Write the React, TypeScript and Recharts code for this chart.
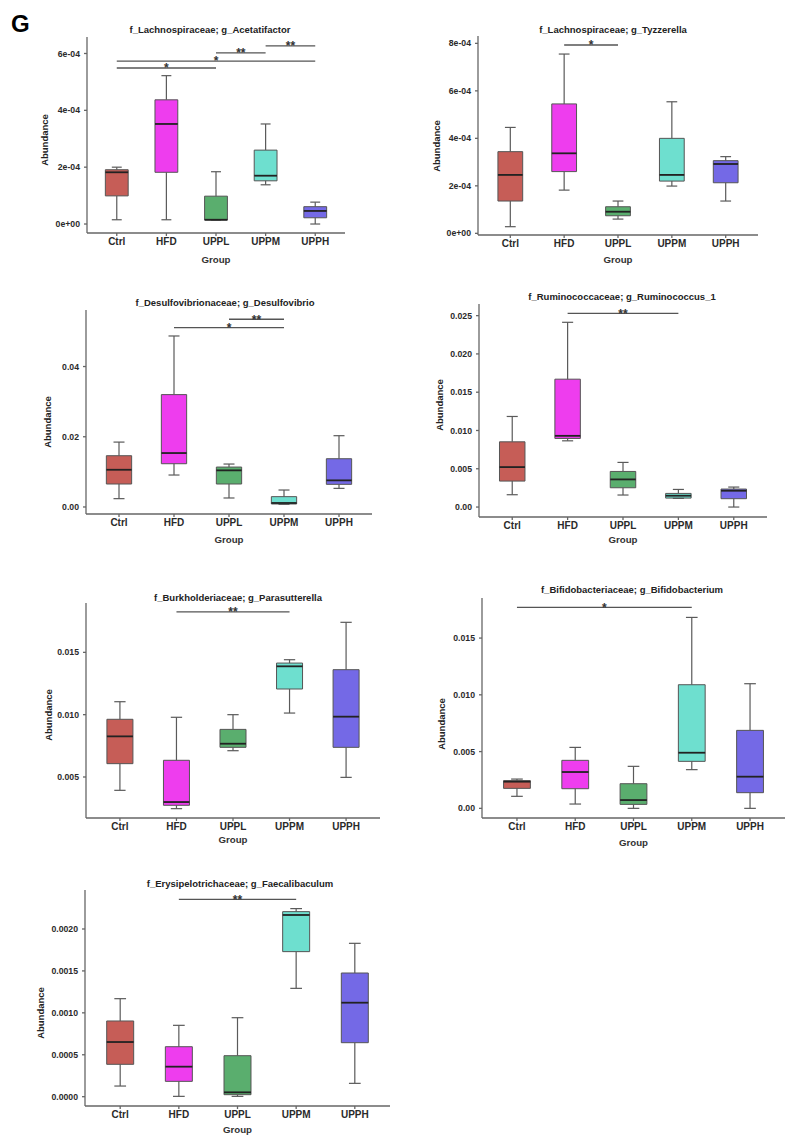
import React from "react";
import {
  ComposedChart,
  XAxis,
  YAxis,
  Scatter,
  ReferenceArea,
  ReferenceLine,
} from "recharts";

const groups = ["Ctrl", "HFD", "UPPL", "UPPM", "UPPH"];
const groupColors = ["#C65D57", "#EE3DEE", "#5AAE6E", "#6EDFCF", "#7469E6"];

// every row is one group: [min, q1, median, q3, max]
const acetatifactorStats = [
  [1.5e-5, 9.9e-5, 1.82e-4, 1.91e-4, 2.0e-4],
  [1.5e-5, 1.82e-4, 3.52e-4, 4.37e-4, 5.22e-4],
  [1.4e-5, 1.4e-5, 1.5e-5, 9.8e-5, 1.84e-4],
  [1.38e-4, 1.52e-4, 1.7e-4, 2.6e-4, 3.52e-4],
  [0, 2.2e-5, 4.6e-5, 6.1e-5, 7.7e-5],
];
const acetatifactorSig = [
  { from: 1, to: 3, y: 5.49e-4, label: "*" },
  { from: 1, to: 5, y: 5.73e-4, label: "*" },
  { from: 3, to: 4, y: 6.02e-4, label: "**" },
  { from: 4, to: 5, y: 6.27e-4, label: "**" },
];
const acetatifactorTicks = [0, 2e-4, 4e-4, 6e-4];
const acetatifactorTickLabels = ["0e+00", "2e-04", "4e-04", "6e-04"];

const tyzzerellaStats = [
  [2.8e-5, 1.36e-4, 2.46e-4, 3.44e-4, 4.46e-4],
  [1.82e-4, 2.6e-4, 3.37e-4, 5.45e-4, 7.55e-4],
  [6.0e-5, 7.4e-5, 9.1e-5, 1.12e-4, 1.36e-4],
  [1.99e-4, 2.2e-4, 2.46e-4, 4.0e-4, 5.54e-4],
  [1.36e-4, 2.13e-4, 2.92e-4, 3.06e-4, 3.23e-4],
];
const tyzzerellaSig = [{ from: 2, to: 3, y: 7.93e-4, label: "*" }];
const tyzzerellaTicks = [0, 2e-4, 4e-4, 6e-4, 8e-4];
const tyzzerellaTickLabels = ["0e+00", "2e-04", "4e-04", "6e-04", "8e-04"];

const desulfovibrioStats = [
  [0.00237, 0.00654, 0.0106, 0.0146, 0.01848],
  [0.0091, 0.01232, 0.01536, 0.032, 0.0487],
  [0.00256, 0.00654, 0.01043, 0.01137, 0.01223],
  [0.00076, 0.00085, 0.00114, 0.00294, 0.00483],
  [0.0053, 0.00645, 0.00758, 0.01374, 0.0203],
];
const desulfovibrioSig = [
  { from: 2, to: 4, y: 0.0511, label: "*" },
  { from: 3, to: 4, y: 0.05346, label: "**" },
];
const desulfovibrioTicks = [0, 0.02, 0.04];
const desulfovibrioTickLabels = ["0.00", "0.02", "0.04"];

const ruminococcusStats = [
  [0.00161, 0.00339, 0.00522, 0.00852, 0.01183],
  [0.00865, 0.00896, 0.0093, 0.0167, 0.02413],
  [0.00157, 0.00252, 0.00361, 0.00465, 0.00583],
  [0.00113, 0.00117, 0.00148, 0.00178, 0.0023],
  [0, 0.00109, 0.00213, 0.00235, 0.00261],
];
const ruminococcusSig = [{ from: 2, to: 4, y: 0.0253, label: "**" }];
const ruminococcusTicks = [0, 0.005, 0.01, 0.015, 0.02, 0.025];
const ruminococcusTickLabels = ["0.00", "0.005", "0.010", "0.015", "0.020", "0.025"];

const parasutterellaStats = [
  [0.00393, 0.00607, 0.00826, 0.00963, 0.01104],
  [0.00246, 0.00273, 0.00299, 0.00634, 0.00979],
  [0.00711, 0.00738, 0.00767, 0.00882, 0.01],
  [0.01013, 0.01206, 0.01388, 0.01414, 0.01441],
  [0.00497, 0.00738, 0.00984, 0.01361, 0.01741],
];
const parasutterellaSig = [{ from: 2, to: 4, y: 0.01824, label: "**" }];
const parasutterellaTicks = [0.005, 0.01, 0.015];
const parasutterellaTickLabels = ["0.005", "0.010", "0.015"];

const bifidobacteriumStats = [
  [0.00106, 0.00176, 0.00235, 0.00244, 0.00258],
  [0.00038, 0.00173, 0.0032, 0.00423, 0.00537],
  [0, 0.00035, 0.00073, 0.00217, 0.0037],
  [0.00341, 0.00414, 0.0049, 0.01089, 0.01682],
  [0, 0.00138, 0.00279, 0.00687, 0.01098],
];
const bifidobacteriumSig = [{ from: 1, to: 4, y: 0.0177, label: "*" }];
const bifidobacteriumTicks = [0, 0.005, 0.01, 0.015];
const bifidobacteriumTickLabels = ["0.00", "0.005", "0.010", "0.015"];

const faecalibaculumStats = [
  [0.000127, 0.000386, 0.000652, 0.000903, 0.001169],
  [0.000004, 0.000183, 0.000358, 0.000596, 0.000851],
  [0.000004, 0.000024, 0.000052, 0.000489, 0.000942],
  [0.001292, 0.00173, 0.002167, 0.002207, 0.002243],
  [0.000159, 0.000644, 0.001121, 0.001475, 0.001829],
];
const faecalibaculumSig = [{ from: 2, to: 4, y: 0.002354, label: "**" }];
const faecalibaculumTicks = [0, 0.0005, 0.001, 0.0015, 0.002];
const faecalibaculumTickLabels = ["0.0000", "0.0005", "0.0010", "0.0015", "0.0020"];

const FONT = '"Liberation Sans", Arial, sans-serif';

type Sig = { from: number; to: number; y: number; label: string };
type Panel = {
  title: string;
  stats: number[][];
  sig: Sig[];
  ticks: number[];
  tickLabels: string[];
  domain: [number, number];
  left: number;
  top: number;
  right: number;
  bottom: number;
  titleAt: [number, number];
  yLabelAt: [number, number];
  groupY: number;
};

const panels: Panel[] = [
  {
    title: "f_Lachnospiraceae; g_Acetatifactor",
    stats: acetatifactorStats, sig: acetatifactorSig,
    ticks: acetatifactorTicks, tickLabels: acetatifactorTickLabels,
    domain: [-3.16e-5, 6.58e-4],
    left: 87, top: 37, right: 345, bottom: 233,
    titleAt: [210, 28], yLabelAt: [43, 140], groupY: 258,
  },
  {
    title: "f_Lachnospiraceae; g_Tyzzerella",
    stats: tyzzerellaStats, sig: tyzzerellaSig,
    ticks: tyzzerellaTicks, tickLabels: tyzzerellaTickLabels,
    domain: [-7e-6, 8.31e-4],
    left: 478, top: 36, right: 758, bottom: 235,
    titleAt: [613, 28], yLabelAt: [435, 146], groupY: 258,
  },
  {
    title: "f_Desulfovibrionaceae; g_Desulfovibrio",
    stats: desulfovibrioStats, sig: desulfovibrioSig,
    ticks: desulfovibrioTicks, tickLabels: desulfovibrioTickLabels,
    domain: [-0.002, 0.0561],
    left: 86, top: 310, right: 372, bottom: 514,
    titleAt: [225, 301], yLabelAt: [46, 422], groupY: 538,
  },
  {
    title: "f_Ruminococcaceae; g_Ruminococcus_1",
    stats: ruminococcusStats, sig: ruminococcusSig,
    ticks: ruminococcusTicks, tickLabels: ruminococcusTickLabels,
    domain: [-0.0013, 0.02652],
    left: 479, top: 304, right: 767, bottom: 517,
    titleAt: [622, 295], yLabelAt: [438, 405], groupY: 538,
  },
  {
    title: "f_Burkholderiaceae; g_Parasutterella",
    stats: parasutterellaStats, sig: parasutterellaSig,
    ticks: parasutterellaTicks, tickLabels: parasutterellaTickLabels,
    domain: [0.00171, 0.01896],
    left: 86, top: 603, right: 380, bottom: 818,
    titleAt: [238, 596], yLabelAt: [47, 715], groupY: 838,
  },
  {
    title: "f_Bifidobacteriaceae; g_Bifidobacterium",
    stats: bifidobacteriumStats, sig: bifidobacteriumSig,
    ticks: bifidobacteriumTicks, tickLabels: bifidobacteriumTickLabels,
    domain: [-0.00085, 0.01853],
    left: 482, top: 598, right: 785, bottom: 818,
    titleAt: [632, 588], yLabelAt: [440, 724], groupY: 841,
  },
  {
    title: "f_Erysipelotrichaceae; g_Faecalibaculum",
    stats: faecalibaculumStats, sig: faecalibaculumSig,
    ticks: faecalibaculumTicks, tickLabels: faecalibaculumTickLabels,
    domain: [-0.000111, 0.002465],
    left: 85, top: 890, right: 390, bottom: 1106,
    titleAt: [240, 882], yLabelAt: [39, 1013], groupY: 1128,
  },
];

const BOX_HALF = 0.23;
const CAP_HALF = 0.1;

const centered = (x: number, y: number, extra = ""): React.CSSProperties => ({
  position: "absolute",
  left: x,
  top: y,
  transform: `translate(-50%, -50%) ${extra}`,
  whiteSpace: "nowrap",
  lineHeight: 1,
  fontFamily: FONT,
  fontWeight: "bold",
  color: "#222",
});

function BoxPanel({ p }: { p: Panel }) {
  const w = p.right - p.left;
  const h = p.bottom - p.top;
  const rows = p.stats.map((s, i) => ({
    x: i + 1,
    min: s[0],
    q1: s[1],
    med: s[2],
    q3: s[3],
    max: s[4],
  }));
  const line = "#5a5a5a";

  return (
    <>
      <div style={centered(p.titleAt[0], p.titleAt[1])}>
        <span style={{ fontSize: 9.5 }}>{p.title}</span>
      </div>
      <div style={centered(p.yLabelAt[0], p.yLabelAt[1], "rotate(-90deg)")}>
        <span style={{ fontSize: 9.5 }}>Abundance</span>
      </div>
      <div style={centered((p.left + p.right) / 2, p.groupY)}>
        <span style={{ fontSize: 9.7, color: "#333" }}>Group</span>
      </div>
      <div style={{ position: "absolute", left: p.left - 70, top: p.top - 10 }}>
        <ComposedChart
          width={w + 80}
          height={h + 40}
          margin={{ top: 10, right: 10, bottom: 0, left: 0 }}
          data={rows}
        >
          <XAxis
            type="number"
            dataKey="x"
            domain={[0.4, 5.6]}
            ticks={[1, 2, 3, 4, 5]}
            allowDataOverflow
            height={30}
            tickSize={3}
            tickMargin={2}
            stroke="#666"
            strokeWidth={1.3}
            tickFormatter={(v: number) => groups[v - 1]}
            tick={{ fill: "#2a2a2a", fontSize: 10, fontWeight: "bold", fontFamily: FONT }}
          />
          <YAxis
            type="number"
            domain={p.domain}
            ticks={p.ticks}
            allowDataOverflow
            width={70}
            tickSize={3}
            tickMargin={4}
            stroke="#666"
            strokeWidth={1.3}
            tickFormatter={(v: number) => p.tickLabels[p.ticks.indexOf(v)]}
            tick={{ fill: "#2a2a2a", fontSize: 8.7, fontWeight: "bold", fontFamily: FONT }}
          />
          {rows.map((r) => (
            <React.Fragment key={`w${r.x}`}>
              <ReferenceLine
                segment={[{ x: r.x, y: r.q3 }, { x: r.x, y: r.max }]}
                stroke={line}
                strokeWidth={1.2}
              />
              <ReferenceLine
                segment={[{ x: r.x, y: r.min }, { x: r.x, y: r.q1 }]}
                stroke={line}
                strokeWidth={1.2}
              />
              <ReferenceLine
                segment={[{ x: r.x - CAP_HALF, y: r.max }, { x: r.x + CAP_HALF, y: r.max }]}
                stroke={line}
                strokeWidth={1.2}
              />
              <ReferenceLine
                segment={[{ x: r.x - CAP_HALF, y: r.min }, { x: r.x + CAP_HALF, y: r.min }]}
                stroke={line}
                strokeWidth={1.2}
              />
              <ReferenceArea
                x1={r.x - BOX_HALF}
                x2={r.x + BOX_HALF}
                y1={r.q1}
                y2={r.q3}
                fill={groupColors[r.x - 1]}
                fillOpacity={1}
                stroke="#555"
                strokeWidth={1}
              />
              <ReferenceLine
                segment={[{ x: r.x - BOX_HALF, y: r.med }, { x: r.x + BOX_HALF, y: r.med }]}
                stroke="#222"
                strokeWidth={1.8}
              />
            </React.Fragment>
          ))}
          {p.sig.map((s, i) => (
            <ReferenceLine
              key={`s${i}`}
              segment={[{ x: s.from, y: s.y }, { x: s.to, y: s.y }]}
              stroke="#555"
              strokeWidth={1.3}
              label={{
                value: s.label,
                position: "center",
                fontSize: 12,
                fontWeight: "bold",
                fill: "#333",
                fontFamily: FONT,
              }}
            />
          ))}
          <Scatter dataKey="med" isAnimationActive={false} shape={() => <g />} />
        </ComposedChart>
      </div>
    </>
  );
}

export default function App() {
  return (
    <div
      style={{
        position: "absolute",
        left: 0,
        top: 0,
        width: 795,
        height: 1146,
        background: "#fff",
        fontFamily: FONT,
      }}
    >
      <div
        style={{
          position: "absolute",
          left: 11,
          top: 12,
          fontSize: 24,
          lineHeight: "24px",
          fontWeight: "bold",
          fontFamily: FONT,
          color: "#000",
        }}
      >
        G
      </div>
      {panels.map((p) => (
        <BoxPanel key={p.title} p={p} />
      ))}
    </div>
  );
}
